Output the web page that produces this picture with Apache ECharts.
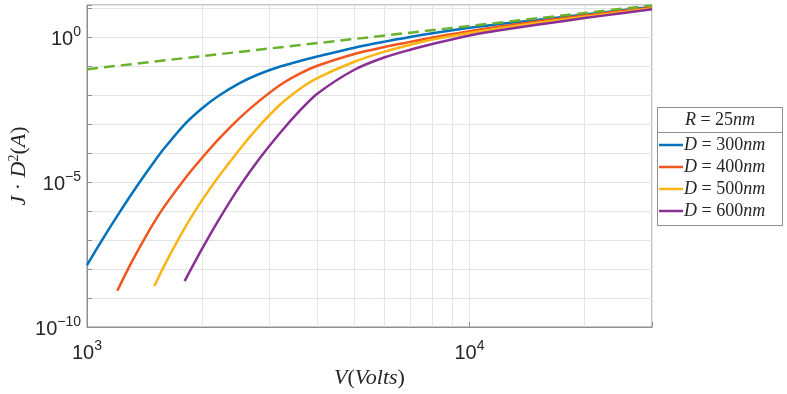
<!DOCTYPE html>
<html>
<head>
<meta charset="utf-8">
<script src="https://cdn.jsdelivr.net/npm/echarts@6/dist/echarts.min.js"></script>
<style>
  html, body { margin: 0; padding: 0; background: #fff; }
  #chart { width: 787px; height: 394px; }
</style>
</head>
<body>
<div id="chart"></div>
<script>
// voltage samples (V)
const voltage = [1000, 1100, 1200, 1300, 1400, 1500, 1600, 1800, 2000, 2200, 2500, 2800,
  3200, 3600, 4000, 5000, 6000, 7000, 8000, 10000, 12000, 15000, 20000, 25000, 30000];

// J*D^2 (A), null = curve not drawn yet
const d300 = [1.37e-8, 1.10e-7, 6.82e-7, 3.44e-6, 1.45e-5, 5.20e-5, 1.59e-4, 9.89e-4, 3.55e-3, 9.20e-3,
  0.0256, 0.0518, 0.0977, 0.151, 0.216, 0.438, 0.708, 1.02, 1.37, 2.13, 2.85, 3.98, 6.11, 8.53, 11.2];
const d400 = [null, null, 1.78e-9, 1.48e-8, 8.91e-8, 4.27e-7, 1.58e-6, 1.29e-5, 6.92e-5, 2.88e-4,
  1.58e-3, 5.89e-3, 0.0226, 0.0556, 0.104, 0.265, 0.463, 0.693, 0.984, 1.62, 2.36, 3.51, 5.65, 8.00, 10.5];
const d500 = [null, null, null, null, null, 2.59e-9, 1.48e-8, 2.59e-7, 2.39e-6, 1.44e-5,
  1.29e-4, 7.76e-4, 4.78e-3, 0.0165, 0.0390, 0.143, 0.321, 0.551, 0.834, 1.41, 2.06, 3.11, 5.09, 7.35, 9.84];
const d600 = [null, null, null, null, null, null, null, 3.85e-9, 5.05e-8, 4.54e-7,
  6.73e-6, 5.60e-5, 5.07e-4, 2.92e-3, 0.0113, 0.0757, 0.204, 0.371, 0.583, 1.15, 1.74, 2.70, 4.59, 6.78, 9.25];

// dashed limit line
const limitV = [1000, 3000, 10000, 30000];
const limitJ = [0.079, 0.41, 2.45, 12.6];

const seriesNames = ['D = 300nm', 'D = 400nm', 'D = 500nm', 'D = 600nm'];
const seriesColors = ['#0072BD', '#F0561D', '#FDB515', '#8A2F94'];
const xMinorTicks = [2000, 3000, 4000, 5000, 6000, 7000, 8000, 9000, 20000];
const yLabelPowers = [0, -5, -10];
const xLabelPowers = [3, 4];

const frameColor = '#8f8f8f';
const gridColor = '#e4e4e4';
const serif = "'Liberation Serif', 'Times New Roman', serif";
const sans = "'Liberation Sans', Arial, sans-serif";

function pairs(vals) {
  const out = [];
  vals.forEach((v, i) => { if (v != null) out.push([voltage[i], v]); });
  return out;
}

function powLabel(value, powers) {
  const e = Math.round(Math.log10(value));
  if (Math.abs(Math.log10(value) - e) > 1e-6 || powers.indexOf(e) < 0) return '';
  return '{b|10}{s|' + String(e).replace('-', '\u2212') + '}';
}

const labelRich = {
  b: { fontSize: 20, fontFamily: sans, color: '#262626', verticalAlign: 'bottom', lineHeight: 24 },
  s: { fontSize: 14, fontFamily: sans, color: '#262626', verticalAlign: 'top', lineHeight: 24, padding: [0, 0, 8, 0] }
};
const italicRich = size => ({
  i: { fontFamily: serif, fontSize: size, fontStyle: 'italic', color: '#262626' },
  s: { fontFamily: serif, fontSize: 14, color: '#262626', verticalAlign: 'top', padding: [0, 0, 10, 0] }
});

const chart = echarts.init(document.getElementById('chart'));

const series = seriesNames.map((name, k) => ({
  name: name,
  type: 'line',
  data: pairs([d300, d400, d500, d600][k]),
  smooth: 0.3,
  showSymbol: false,
  symbol: 'none',
  lineStyle: { width: 2.5, color: seriesColors[k] },
  itemStyle: { color: seriesColors[k] },
  z: 3
}));

series.push({
  name: 'limit',
  type: 'line',
  data: limitV.map((v, i) => [v, limitJ[i]]),
  showSymbol: false,
  symbol: 'none',
  lineStyle: { width: 2.5, color: '#6AB22E', type: [11, 6] },
  z: 4
});

// minor vertical grid lines, kept under the curves
series.push({
  name: 'minorGrid',
  type: 'line',
  data: [],
  silent: true,
  z: 1,
  markLine: {
    silent: true,
    z: 1,
    symbol: ['none', 'none'],
    label: { show: false },
    lineStyle: { color: gridColor, type: 'solid', width: 1 },
    data: xMinorTicks.map(v => ({ xAxis: v }))
  }
});

chart.setOption({
  animation: false,
  grid: {
    left: 87, right: 135, top: 5, bottom: 67,
    outerBoundsMode: 'none',
    containLabel: false,
    show: true, borderColor: frameColor, borderWidth: 1
  },
  xAxis: {
    type: 'log',
    logBase: 10,
    min: 1000,
    max: 30000,
    name: '{i|V}({i|Volts})',
    nameLocation: 'middle',
    nameGap: 40,
    nameMoveOverlap: false,
    nameTextStyle: {
      fontFamily: serif, fontSize: 22, color: '#262626', rich: italicRich(22)
    },
    axisLine: { show: true, lineStyle: { color: frameColor } },
    axisTick: { show: true, inside: true, length: 5, lineStyle: { color: frameColor } },
    axisLabel: {
      margin: 12,
      formatter: v => powLabel(v, xLabelPowers),
      rich: labelRich
    },
    splitLine: { show: true, lineStyle: { color: gridColor, width: 1 } }
  },
  yAxis: {
    type: 'log',
    logBase: 10,
    min: 1e-10,
    max: 13,
    interval: 1,
    name: '{i|J} \u00b7 {i|D}{s|2}({i|A})',
    nameLocation: 'middle',
    nameRotate: 90,
    nameGap: 56,
    nameMoveOverlap: false,
    nameTextStyle: {
      fontFamily: serif, fontSize: 22, color: '#262626', rich: italicRich(22)
    },
    axisLine: { show: true, lineStyle: { color: frameColor } },
    axisTick: { show: true, inside: true, length: 5, lineStyle: { color: frameColor } },
    axisLabel: {
      margin: 6,
      formatter: v => powLabel(v, yLabelPowers),
      rich: labelRich
    },
    splitLine: { show: true, lineStyle: { color: gridColor, width: 1 } }
  },
  legend: {
    data: seriesNames,
    orient: 'vertical',
    left: 657,
    top: 135,
    padding: [0, 0, 0, 2],
    icon: 'rect',
    itemWidth: 24,
    itemHeight: 2.5,
    itemGap: 2,
    formatter: name => '{i|D} = ' + name.slice(4, 7) + '{i|nm}',
    textStyle: {
      fontFamily: serif, fontSize: 18, color: '#262626', lineHeight: 20,
      padding: [0, 0, 0, -4],
      rich: {
        i: { fontFamily: serif, fontSize: 18, fontStyle: 'italic', color: '#262626', lineHeight: 20 }
      }
    }
  },
  graphic: [
    {
      type: 'rect',
      shape: { x: 657.5, y: 107.5, width: 125, height: 118 },
      style: { fill: '#fff', stroke: frameColor, lineWidth: 1 },
      z: 0
    },
    {
      type: 'line',
      shape: { x1: 657.5, y1: 132.5, x2: 782.5, y2: 132.5 },
      style: { stroke: frameColor, lineWidth: 1 },
      z: 1
    },
    {
      type: 'text',
      x: 720, y: 120,
      style: {
        text: '{i|R} = 25{i|nm}',
        fontFamily: serif, fontSize: 18, fill: '#262626',
        align: 'center', verticalAlign: 'middle',
        rich: { i: { fontFamily: serif, fontSize: 18, fontStyle: 'italic', fill: '#262626' } }
      },
      z: 1
    }
  ],
  series: series
});
</script>
</body>
</html>
